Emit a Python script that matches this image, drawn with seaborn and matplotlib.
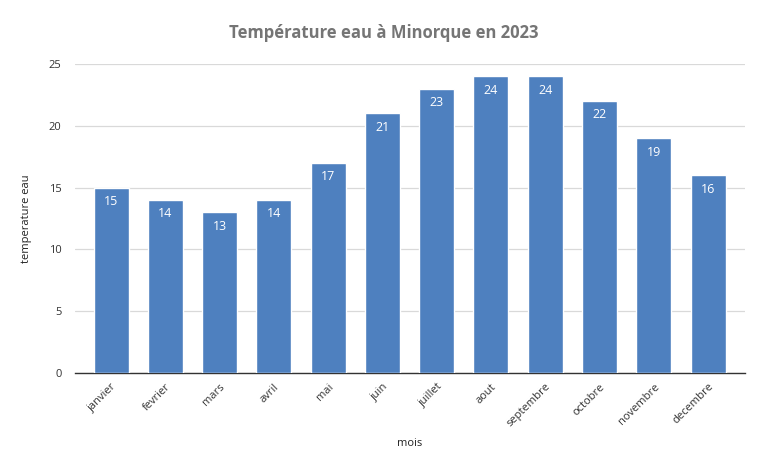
import pandas as pd
import seaborn as sns
import matplotlib.pyplot as plt

mois = ['janvier', 'fevrier', 'mars', 'avril', 'mai', 'juin', 'juillet',
        'aout', 'septembre', 'octobre', 'novembre', 'decembre']
temperature = [15, 14, 13, 14, 17, 21, 23, 24, 24, 22, 19, 16]

df = pd.DataFrame({'mois': mois, 'temperature eau': temperature})

sns.set_style('white')
plt.rcParams['font.family'] = ['Open Sans', 'DejaVu Sans']

fig = plt.figure(figsize=(7.68, 4.74), dpi=100)
ax = fig.add_axes([0.098, 0.213, 0.872, 0.652])

sns.barplot(x='mois', y='temperature eau', data=df, color='#4e80bf',
            saturation=1, width=0.645, ax=ax, zorder=3)

for p, v in zip(ax.patches, temperature):
    ax.text(p.get_x() + p.get_width() / 2, v - 0.6, str(v), ha='center', va='top',
            color='white', fontsize=9, zorder=4)

ax.set_ylim(0, 25)
ax.set_xlim(-0.66, 11.68)
ax.set_yticks([0, 5, 10, 15, 20, 25])
ax.yaxis.grid(True, color='#d9d9d9', linewidth=0.9, zorder=0)
for s in ['top', 'right', 'left']:
    ax.spines[s].set_visible(False)
ax.spines['bottom'].set_color('#333333')
ax.spines['bottom'].set_linewidth(1)
ax.tick_params(axis='y', length=0, labelsize=8, colors='#333333', pad=10)
ax.tick_params(axis='x', length=0, labelsize=8, colors='#333333', pad=6)
plt.setp(ax.get_xticklabels(), rotation=45, ha='right', rotation_mode='anchor')

ax.set_xlabel('mois', fontsize=8, color='#222222', labelpad=6)
ax.set_ylabel('temperature eau', fontsize=8, color='#222222', labelpad=12)
fig.suptitle('Température eau à Minorque en 2023', x=0.5, y=0.95,
             fontsize=12, fontweight='bold', color='#757575')

plt.savefig('out.png', dpi=100)
plt.close()
